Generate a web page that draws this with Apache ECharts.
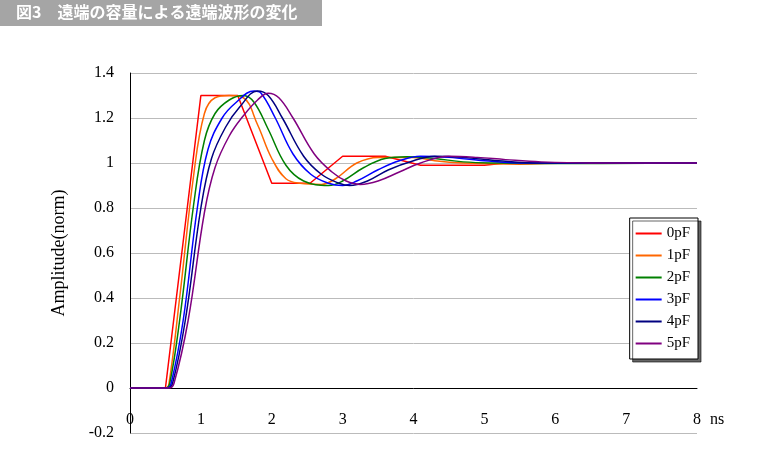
<!DOCTYPE html>
<html><head><meta charset="utf-8">
<script src="https://cdn.jsdelivr.net/npm/echarts@6/dist/echarts.min.js"></script>
<style>html,body{margin:0;padding:0;background:#fff}#c{width:774px;height:476px}</style>
</head><body><div id="c"></div>
<script>
// 遠端波形 [ns, amplitude]
var pf0 = [[0,0],[0.5,0],[1.0,1.3],[1.52,1.3],[2.0,0.91],[2.54,0.91],[3.0,1.03],[3.6,1.03],[4.1,0.99],[5.0,0.99],[5.3,1.0],[8,1.0]];
var pf1 = [[0,0],[0.5,0],[0.55,0.02],[0.7,0.4],[0.9,0.95],[1.05,1.22],[1.2,1.29],[1.4,1.3],[1.6,1.29],[1.8,1.17],[2.0,1.02],[2.2,0.93],[2.4,0.91],[2.7,0.905],[2.9,0.93],[3.2,1.0],[3.5,1.025],[4.0,1.025],[4.3,1.01],[4.7,1.0],[5.5,0.995],[6.2,1.0],[8,1.0]];
var pf2 = [[0,0],[0.5,0],[0.56,0.02],[0.7,0.3],[0.9,0.82],[1.05,1.1],[1.2,1.22],[1.4,1.28],[1.6,1.3],[1.75,1.27],[1.95,1.15],[2.2,0.99],[2.45,0.92],[2.8,0.9],[3.0,0.92],[3.3,0.98],[3.6,1.02],[3.9,1.028],[4.3,1.02],[4.7,1.005],[5.2,1.0],[6.0,0.998],[8,1.0]];
var pf3 = [[0,0],[0.52,0],[0.58,0.02],[0.75,0.3],[0.95,0.8],[1.1,1.06],[1.3,1.2],[1.5,1.27],[1.75,1.32],[1.85,1.31],[2.05,1.2],[2.3,1.04],[2.55,0.95],[2.8,0.91],[3.0,0.9],[3.2,0.92],[3.5,0.97],[3.8,1.01],[4.1,1.03],[4.5,1.025],[5.0,1.01],[5.6,1.0],[8,1.0]];
var pf4 = [[0,0],[0.53,0],[0.6,0.02],[0.78,0.3],[1.0,0.8],[1.15,1.02],[1.35,1.16],[1.55,1.25],[1.8,1.32],[1.95,1.3],[2.15,1.2],[2.45,1.03],[2.7,0.95],[2.95,0.91],[3.1,0.9],[3.35,0.92],[3.65,0.97],[4.0,1.01],[4.3,1.03],[4.7,1.025],[5.2,1.01],[5.8,1.0],[8,1.0]];
var pf5 = [[0,0],[0.55,0],[0.62,0.02],[0.82,0.3],[1.05,0.78],[1.2,0.98],[1.4,1.12],[1.6,1.21],[1.8,1.28],[1.95,1.31],[2.1,1.29],[2.3,1.2],[2.6,1.04],[2.85,0.96],[3.05,0.92],[3.25,0.905],[3.5,0.92],[3.8,0.96],[4.1,1.0],[4.5,1.03],[4.9,1.025],[5.3,1.015],[5.8,1.005],[6.5,1.0],[8,1.0]];

var names = ['0pF','1pF','2pF','3pF','4pF','5pF'];
var colors = ['#ff0000','#ff6600','#008000','#0000ff','#000080','#800080'];
var waves = [pf0, pf1, pf2, pf3, pf4, pf5];
var xTicks = [0,1,2,3,4,5,6,7,8];

var series = [];
for (var i = 0; i < waves.length; i++) {
    series.push({
        name: names[i], type: 'line', data: waves[i], showSymbol: false,
        smooth: i == 0 ? false : 0.4,
        lineStyle: {color: colors[i], width: 1.5}, itemStyle: {color: colors[i]}
    });
}

var myChart = echarts.init(document.getElementById('c'));
myChart.setOption({
    animation: false,
    color: colors,
    graphic: [
        {type: 'rect', left: 0, top: 0, shape: {width: 322, height: 26}, style: {fill: '#a5a5a5'}},
        {type: 'text', left: 16, top: 4, style: {text: '図3　遠端の容量による遠端波形の変化', fill: '#fff', font: 'bold 16px "Noto Sans CJK JP"'}},
        {type: 'text', left: 710, top: 412, style: {text: 'ns', fill: '#000', font: '16px "Liberation Serif"'}}
    ],
    grid: {left: 130, right: 77, top: 73, bottom: 43},
    legend: {
        orient: 'vertical', right: 76, top: 218, width: 76, height: 152,
        padding: [8, 8, 8, 6], itemGap: 7, itemWidth: 26, itemHeight: 2,
        icon: 'rect', backgroundColor: '#fff', borderColor: '#000', borderWidth: 1,
        shadowColor: 'rgba(0,0,0,0.6)', shadowOffsetX: 3, shadowOffsetY: 3, shadowBlur: 0,
        textStyle: {fontFamily: 'Liberation Serif', fontSize: 15, color: '#000'},
        data: names
    },
    xAxis: {
        type: 'value', min: 0, max: 8, interval: 1,
        axisLine: {onZero: true, lineStyle: {color: '#000'}},
        axisTick: {show: false},
        splitLine: {show: false},
        axisLabel: {margin: -21, color: '#000', fontFamily: 'Liberation Serif', fontSize: 16,
            formatter: function (v) { return xTicks.indexOf(v) >= 0 ? String(v) : ''; }}
    },
    yAxis: {
        type: 'value', min: -0.2, max: 1.4, interval: 0.2,
        name: 'Amplitude(norm)', nameLocation: 'middle', nameGap: 62,
        nameTextStyle: {fontFamily: 'Liberation Serif', fontSize: 18, color: '#000'},
        axisLine: {show: true, lineStyle: {color: '#000'}},
        axisTick: {show: false},
        splitLine: {lineStyle: {color: '#bbb'}},
        axisLabel: {margin: 16, color: '#000', fontFamily: 'Liberation Serif', fontSize: 16,
            formatter: function (v) { return Math.abs(v) < 1e-9 ? '0' : (Math.abs(v - 1) < 1e-9 ? '1' : v.toFixed(1)); }}
    },
    series: series
});
</script></body></html>
